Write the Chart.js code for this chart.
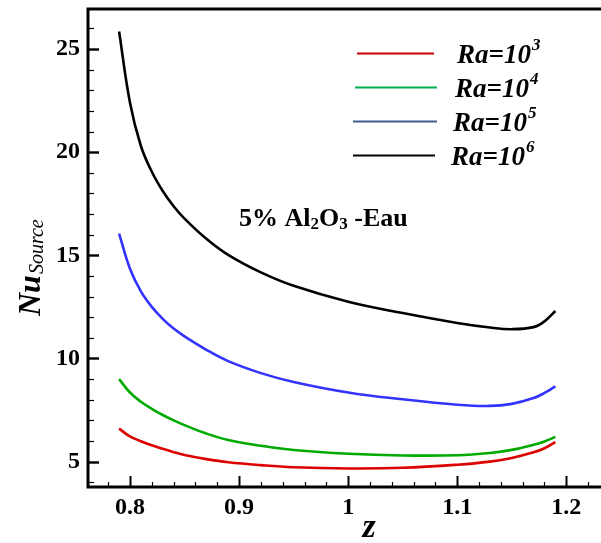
<!DOCTYPE html>
<html>
<head>
<meta charset="utf-8">
<script src="https://cdn.jsdelivr.net/npm/chart.js@4"></script>
<style>
  html, body { margin: 0; padding: 0; background: #fff; }
  #wrap { width: 601px; height: 543px; position: relative; }
</style>
</head>
<body>
<div id="wrap"><canvas id="c" width="601" height="543"></canvas></div>
<script>
// ---- data ----
const zValues = [0.79, 0.80, 0.81, 0.82, 0.83, 0.84, 0.85, 0.87, 0.89, 0.92, 0.95, 1.00, 1.05, 1.10, 1.13, 1.15, 1.17, 1.18, 1.19];
const nuRa1e3 = [6.60, 6.22, 5.99, 5.79, 5.62, 5.46, 5.32, 5.12, 4.97, 4.83, 4.73, 4.67, 4.70, 4.85, 5.00, 5.18, 5.45, 5.65, 5.95];
const nuRa1e4 = [9.00, 8.35, 7.90, 7.56, 7.26, 7.00, 6.77, 6.36, 6.05, 5.77, 5.56, 5.38, 5.30, 5.31, 5.42, 5.57, 5.82, 5.98, 6.20];
const nuRa1e5 = [16.05, 14.35, 13.25, 12.50, 11.92, 11.45, 11.07, 10.42, 9.87, 9.29, 8.86, 8.35, 8.02, 7.76, 7.70, 7.80, 8.08, 8.33, 8.65];
const nuRa1e6 = [25.85, 22.40, 20.30, 19.05, 18.12, 17.38, 16.78, 15.80, 15.02, 14.17, 13.52, 12.75, 12.20, 11.72, 11.50, 11.42, 11.52, 11.80, 12.30];
const seriesExponents = ["3", "4", "5", "6"];
const xTickValues = [0.8, 0.9, 1.0, 1.1, 1.2];
const yTickValues = [5, 10, 15, 20, 25];

const curveColors = ["#dd0000", "#00aa00", "#3333ff", "#000000"];
const legendColors = ["#cc0000", "#00b050", "#3f5f8f", "#000000"];
const seriesData = [nuRa1e3, nuRa1e4, nuRa1e5, nuRa1e6];

const SERIF = '"Liberation Serif", "Times New Roman", serif';

const datasets = seriesData.map((vals, i) => ({
  label: "Ra=10^" + seriesExponents[i],
  data: zValues.map((z, k) => ({ x: z, y: vals[k] })),
  borderColor: curveColors[i],
  borderWidth: 2.6,
  pointRadius: 0,
  fill: false,
  tension: 0.4
}));

const decor = {
  id: "decor",
  afterDraw(chart) {
    const ctx = chart.ctx;
    const a = chart.chartArea;
    const xs = chart.scales.x, ys = chart.scales.y;
    ctx.save();
    ctx.strokeStyle = "#000";
    ctx.lineCap = "butt";
    // frame
    ctx.lineWidth = 3;
    ctx.beginPath();
    ctx.moveTo(a.left, a.top); ctx.lineTo(a.right, a.top);
    ctx.moveTo(a.left, a.top - 1.5); ctx.lineTo(a.left, a.bottom + 1.5);
    ctx.moveTo(a.left, a.bottom); ctx.lineTo(a.right, a.bottom);
    ctx.stroke();
    // x ticks (inward)
    for (let v = 0.78; v <= 1.2301; v += 0.02) {
      const px = Math.round(xs.getPixelForValue(v)) + 0.5;
      const major = Math.abs(Math.round(v * 10) - v * 10) < 1e-6;
      ctx.lineWidth = major ? 2 : 1.2;
      ctx.beginPath();
      ctx.moveTo(px, a.bottom);
      ctx.lineTo(px, a.bottom - (major ? 11 : 5));
      ctx.stroke();
    }
    // y ticks (inward)
    for (let v = 4; v <= 26; v += 1) {
      const py = Math.round(ys.getPixelForValue(v)) + 0.5;
      const major = v % 5 === 0;
      ctx.lineWidth = major ? 2.4 : 1.2;
      ctx.beginPath();
      ctx.moveTo(a.left, py);
      ctx.lineTo(a.left + (major ? 11 : 6), py);
      ctx.stroke();
    }
    // x title
    ctx.fillStyle = "#000";
    ctx.textBaseline = "alphabetic";
    ctx.textAlign = "center";
    ctx.font = "italic bold 34px " + SERIF;
    ctx.fillText("z", 369, 537);
    // y title rotated
    ctx.save();
    ctx.translate(40, 316);
    ctx.rotate(-Math.PI / 2);
    ctx.textAlign = "left";
    ctx.font = "italic bold 32px " + SERIF;
    ctx.fillText("Nu", 0, 0);
    const wNu = ctx.measureText("Nu").width;
    ctx.font = "italic 20px " + SERIF;
    ctx.fillText("Source", wNu + 1, 3);
    ctx.restore();
    // legend
    const rows = [53, 87, 121, 155];
    const lineStart = [357, 355, 353, 353];
    const lineEnd = [434, 437, 437, 435];
    rows.forEach((y, i) => {
      ctx.strokeStyle = legendColors[i];
      ctx.lineWidth = 2;
      ctx.beginPath();
      ctx.moveTo(lineStart[i], y + 0.5);
      ctx.lineTo(lineEnd[i], y + 0.5);
      ctx.stroke();
      ctx.fillStyle = "#000";
      ctx.textAlign = "left";
      ctx.font = "italic bold 27px " + SERIF;
      const tx = 457 - i * 2;
      ctx.fillText("Ra=10", tx, y + 10);
      const w = ctx.measureText("Ra=10").width;
      ctx.font = "italic bold 17px " + SERIF;
      ctx.fillText(seriesExponents[i], tx + w + 1, y - 3);
    });
    // annotation 5% Al2O3 -Eau
    ctx.fillStyle = "#000";
    ctx.textAlign = "left";
    let x = 239;
    const by = 226;
    const parts = [["5% Al", 26, 0], ["2", 17, 3], ["O", 26, 0], ["3", 17, 3], [" -Eau", 26, 0]];
    parts.forEach(p => {
      ctx.font = "bold " + p[1] + "px " + SERIF;
      ctx.fillText(p[0], x, by + p[2]);
      x += ctx.measureText(p[0]).width;
    });
    ctx.restore();
  }
};

new Chart(document.getElementById("c"), {
  type: "line",
  data: { datasets },
  options: {
    responsive: false,
    animation: false,
    devicePixelRatio: 1,
    layout: { padding: { top: 9, right: 0, left: 0, bottom: 0 } },
    plugins: { legend: { display: false }, tooltip: { enabled: false } },
    scales: {
      x: {
        type: "linear",
        min: 0.7615,
        max: 1.2318,
        afterFit(s) { s.height = 56; s.paddingLeft = 0; s.paddingRight = 0; },
        afterBuildTicks(s) { s.ticks = xTickValues.map(v => ({ value: v })); },
        grid: { display: false, drawTicks: false },
        border: { display: false },
        ticks: {
          padding: 6,
          color: "#000",
          font: { family: SERIF, size: 24, weight: "bold" },
          callback: v => String(Math.round(v * 10) / 10)
        }
      },
      y: {
        type: "linear",
        min: 3.77,
        max: 26.94,
        afterFit(s) { s.width = 88; s.paddingTop = 0; s.paddingBottom = 0; },
        afterBuildTicks(s) { s.ticks = yTickValues.map(v => ({ value: v })); },
        grid: { display: false, drawTicks: false },
        border: { display: false },
        ticks: {
          padding: 8,
          color: "#000",
          font: { family: SERIF, size: 24, weight: "bold" },
          callback: v => String(v)
        }
      }
    }
  },
  plugins: [decor]
});
</script>
</body>
</html>
